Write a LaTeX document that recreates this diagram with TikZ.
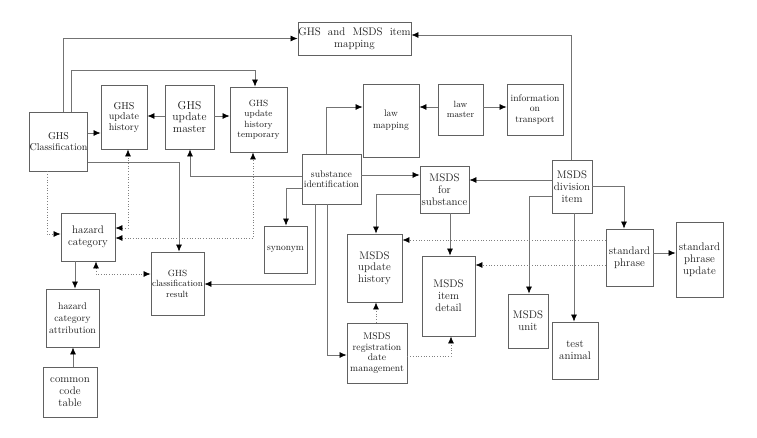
\documentclass[tikz,border=0pt]{standalone}
\usetikzlibrary{arrows.meta}
\newcommand{\fs}[2]{\fontsize{#1}{#2}\selectfont}
\begin{document}
\begin{tikzpicture}[x=1pt,y=-1pt,
  box/.style={draw=black!62,line width=0.9pt,inner sep=0pt,align=center,text=black!90},
  arr/.style={draw=black!55,line width=0.7pt,-{Latex[length=7pt,width=6pt,color=black]}},
  dotarr/.style={draw=black!50,line width=0.7pt,dotted,-{Latex[length=7pt,width=6pt,color=black]}},
  dotboth/.style={draw=black!50,line width=0.7pt,dotted,{Latex[length=7pt,width=6pt,color=black]}-{Latex[length=7pt,width=6pt,color=black]}}]
\useasboundingbox (0,0) rectangle (757,437);

% GHS side
\node[box,minimum width=113,minimum height=33,font=\fs{11}{12}] (map) at (354.5,38.5) {GHS\ \ and\ \ MSDS\ \ item\\mapping};
\node[box,minimum width=57,minimum height=59,font=\fs{10}{10.7}] (ghscls) at (58.5,141.5) {GHS\\Classification};
\node[box,minimum width=46,minimum height=64,font=\fs{10}{10.5}] (ghsuh) at (124,117) {GHS\\update\\history};
\node[box,minimum width=49,minimum height=64,font=\fs{11.5}{11.7}] (ghsum) at (189.5,117) {GHS\\update\\master};
\node[box,minimum width=57,minimum height=65,font=\fs{9}{10.5}] (ghsuht) at (258.5,119.5) {GHS\\update\\history\\temporary};
\node[box,minimum width=54,minimum height=48,font=\fs{11}{12.3}] (hazcat) at (88,237) {hazard\\category};
\node[box,minimum width=53,minimum height=63,font=\fs{9}{10.5}] (ghsres) at (177.5,283.5) {GHS\\classification\\result};
\node[box,minimum width=53,minimum height=58,font=\fs{9.8}{11.7}] (hazattr) at (72.5,318) {hazard\\category\\attribution};
\node[box,minimum width=54,minimum height=50,font=\fs{11}{11.7}] (cct) at (70,392) {common\\code\\table};

% law and substance
\node[box,minimum width=56,minimum height=73,font=\fs{9.5}{12}] (lawmap) at (391,120.5) {law\\mapping};
\node[box,minimum width=45,minimum height=51,font=\fs{9}{10}] (lawmaster) at (460.5,109.5) {law\\master};
\node[box,minimum width=56,minimum height=51,font=\fs{9.6}{10.7}] (info) at (535,109.5) {information\\on\\transport};
\node[box,minimum width=59,minimum height=50,font=\fs{9.7}{10}] (subid) at (331.5,179) {substance\\identification};
\node[box,minimum width=43,minimum height=47,font=\fs{9.5}{11}] (synonym) at (285.5,249.5) {synonym};

% MSDS side
\node[box,minimum width=49,minimum height=47,font=\fs{11}{11.8}] (msdsfor) at (444.5,189.5) {MSDS\\for\\substance};
\node[box,minimum width=40,minimum height=53,font=\fs{11}{12.2}] (msdsdiv) at (572,186.5) {MSDS\\division\\item};
\node[box,minimum width=55,minimum height=68,font=\fs{11}{11.7}] (msdsuh) at (374.5,268) {MSDS\\update\\history};
\node[box,minimum width=60,minimum height=60,font=\fs{9.7}{10.6}] (msdsreg) at (377,353) {MSDS\\registration\\date\\management};
\node[box,minimum width=53,minimum height=80,font=\fs{11}{12}] (msdsitem) at (448.5,296) {MSDS\\item\\detail};
\node[box,minimum width=47,minimum height=57,font=\fs{11}{11.7}] (stdph) at (629.5,257.5) {standard\\phrase};
\node[box,minimum width=47,minimum height=75,font=\fs{11}{12}] (stdphu) at (699.5,259.5) {standard\\phrase\\update};
\node[box,minimum width=40,minimum height=54,font=\fs{11}{11.7}] (msdsunit) at (528,321) {MSDS\\unit};
\node[box,minimum width=46,minimum height=57,font=\fs{11}{12}] (testan) at (575,350.5) {test\\animal};

% solid connectors
\draw[arr] (ghscls.north -| 63,0) |- (map.west);
\draw[arr] (ghscls.north -| 71,0) -- (71,70) -| (ghsuht.north -| 255,0);
\draw[arr] (ghscls.east |- 0,133) -- (ghsuh.west |- 0,133);
\draw[arr] (ghsum.west |- 0,116) -- (ghsuh.east |- 0,116);
\draw[arr] (ghsum.east |- 0,116) -- (ghsuht.west |- 0,116);
\draw[arr] (msdsdiv.north -| 571,0) |- (map.east |- 0,35);
\draw[arr] (lawmaster.west |- 0,107) -- (lawmap.east |- 0,107);
\draw[arr] (lawmaster.east |- 0,107) -- (info.west |- 0,107);
\draw[arr] (subid.north -| 326,0) |- (lawmap.west |- 0,107);
\draw[arr] (subid.west |- 0,176) -| (ghsum.south -| 190,0);
\draw[arr] (ghscls.east |- 0,162) -| (ghsres.north -| 179,0);
\draw[arr] (hazcat.south -| 75,0) -- (hazattr.north -| 75,0);
\draw[arr] (cct.north -| 73,0) -- (hazattr.south -| 73,0);
\draw[arr] (subid.west |- 0,188) -| (synonym.north -| 286,0);
\draw[arr] (subid.south -| 315,0) |- (ghsres.east |- 0,284);
\draw[arr] (subid.south -| 327,0) |- (msdsreg.west |- 0,355);
\draw[arr] (subid.east |- 0,175) -- (msdsfor.west |- 0,175);
\draw[arr] (msdsdiv.west |- 0,180) -- (msdsfor.east |- 0,180);
\draw[arr] (msdsfor.west |- 0,194) -| (msdsuh.north -| 376,0);
\draw[arr] (msdsfor.south -| 450,0) -- (msdsitem.north -| 450,0);
\draw[arr] (stdph.east |- 0,253) -- (stdphu.west |- 0,253);
\draw[arr] (msdsdiv.east |- 0,186) -| (stdph.north -| 624,0);
\draw[arr] (msdsdiv.west |- 0,196) -| (msdsunit.north -| 529,0);
\draw[arr] (msdsdiv.south -| 574,0) -- (testan.north -| 574,0);

% dotted connectors
\draw[dotarr] (ghscls.south -| 47,0) |- (hazcat.west |- 0,234);
\draw[dotboth] (hazcat.east |- 0,228) -| (ghsuh.south -| 128,0);
\draw[dotboth] (hazcat.east |- 0,238) -| (ghsuht.south -| 253,0);
\draw[dotboth] (hazcat.south -| 96,0) |- (ghsres.west |- 0,274);
\draw[dotarr] (msdsreg.north -| 376,0) -- (msdsuh.south -| 376,0);
\draw[dotarr] (msdsreg.east |- 0,356) -| (msdsitem.south -| 451,0);
\draw[dotarr] (stdph.west |- 0,240) -- (msdsuh.east |- 0,240);
\draw[dotarr] (stdph.west |- 0,265) -- (msdsitem.east |- 0,265);
\end{tikzpicture}
\end{document}
